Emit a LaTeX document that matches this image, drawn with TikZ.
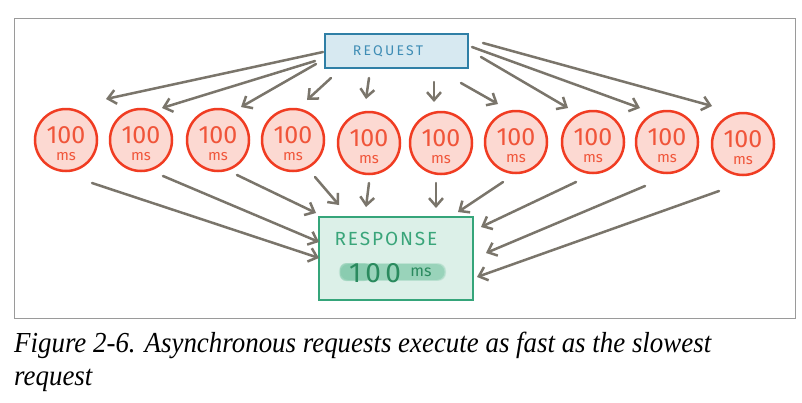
\documentclass[tikz,border=0pt]{standalone}
\usepackage{fontspec}
\setmainfont{Liberation Serif}
\newfontfamily\hand{Fira Sans}
\usetikzlibrary{arrows.meta}
\definecolor{arrgray}{HTML}{7A756B}
\definecolor{reqline}{HTML}{2F7FA6}
\definecolor{reqfill}{HTML}{D7E9F1}
\definecolor{reqtext}{HTML}{3F8DB5}
\definecolor{cline}{HTML}{F03C22}
\definecolor{cfill}{HTML}{FCD9D2}
\definecolor{ctext}{HTML}{F0553A}
\definecolor{resline}{HTML}{35A57A}
\definecolor{resfill}{HTML}{DCF0E8}
\definecolor{restext}{HTML}{3AA57A}
\definecolor{resdark}{HTML}{2A8A5E}
\definecolor{smudge}{HTML}{6FC19E}
\definecolor{framegray}{HTML}{9A9A9A}
\newsavebox\capbox
\newlength\capwd
\sbox\capbox{\fontsize{29}{32}\selectfont\itshape Figure 2-6. Asynchronous requests execute as fast as the slowest}
\setlength\capwd{\wd\capbox}
\pgfmathsetmacro\capxs{697/\capwd}
\begin{document}
\begin{tikzpicture}[x=1pt,y=-1pt,
  arr/.style={draw=arrgray,line width=2.5pt,line cap=round,
    -{Straight Barb[length=8pt,width=14pt,line width=2.5pt]}},
  reqbox/.style={draw=reqline,fill=reqfill,line width=2.5pt,minimum width=143pt,minimum height=34pt,inner sep=0pt},
  resbox/.style={draw=resline,fill=resfill,line width=2.5pt,minimum width=154pt,minimum height=83pt,inner sep=0pt},
  msnode/.style={circle,draw=cline,fill=cfill,line width=2.5pt,minimum size=62pt,inner sep=0pt},
  hundred/.style={text=ctext,font=\hand\fontsize{25}{25}\selectfont,inner sep=0pt},
  mslabel/.style={text=ctext,font=\hand\fontsize{15}{15}\selectfont,inner sep=0pt}]
\useasboundingbox (0,0) rectangle (802,402);
\fill[white] (0,0) rectangle (802,402);
\draw[framegray,line width=1pt] (14,18) rectangle (795,318);

\node[reqbox] (req) at (396.5,51) {};
\node[text=reqtext,font=\hand\fontsize{14}{14}\selectfont\addfontfeatures{LetterSpace=16}] (reqt) at (388,51) {REQUEST};

\node[resbox] (res) at (396,258.5) {};
\node[text=restext,font=\hand\fontsize{19}{19}\selectfont\addfontfeatures{LetterSpace=10}] (rest) at (386,239) {RESPONSE};
\foreach \o in {0.18,0.25,0.35}{
  \fill[smudge,opacity=\o,rounded corners=8pt] (337+\o*10,262+\o*6) rectangle (448-\o*10,282-\o*6);
}
\fill[smudge,opacity=0.35,rounded corners=6pt] (340,263) rectangle (370,281);
\node[text=resdark,font=\hand\fontsize{28}{28}\selectfont\addfontfeatures{LetterSpace=15},inner sep=0pt,anchor=base] (resv) at (375,282) {100};
\node[text=resdark,font=\hand\fontsize{16}{16}\selectfont,inner sep=0pt,anchor=base] (resm) at (421,276) {ms};

\foreach \i/\x/\y in {1/66/140,2/141/140,3/218/140,4/293/140,5/369/143,6/441/143,7/516/142,8/593/142,9/667/142,10/743/144}{
  \node[msnode] (c\i) at (\x,\y) {};
  \node[hundred] (h\i) at (\x,\y-5) {100};
  \node[mslabel] (m\i) at (\x,\y+17) {ms};
}

\foreach \i/\a/\b/\c/\d in {1/-73.5/1/40/-41,2/-81.5/10/21/-32,3/-80.5/13/23/-33,4/-65.5/27/14/-40,5/-27.5/27/-3/-44,6/37.5/31/-7/-41,7/64.5/32/-18/-38,8/84.5/6/-25/-34,9/75.5/-4/-27/-34,10/86.5/-8/-31/-38}{
  \draw[arr] ([shift={(\a,\b)}]req.center) -- ([shift={(\c,\d)}]c\i.center);
}
\foreach \i/\a/\b/\c/\d in {1/26/43/-77/-0.5,2/22/36/-77/-16.5,3/19/35/-80/-45.5,4/22/37/-57/-53.5,5/0/40/-30/-51.5,6/-5/40/40/-50.5,7/-13/40/62/-46.5,8/-17/40/85/-31.5,9/-22/44/90/-5.5,10/-24/47/81/18.5}{
  \draw[arr] ([shift={(\a,\b)}]c\i.center) -- ([shift={(\c,\d)}]res.center);
}

\node[anchor=base west,inner sep=0pt] (cap1) at (14,352) {\scalebox{\capxs}[1]{\usebox\capbox}};
\node[anchor=base west,inner sep=0pt] (cap2) at (14,385) {\scalebox{\capxs}[1]{\fontsize{29}{32}\selectfont\itshape request}};
\end{tikzpicture}
\end{document}
